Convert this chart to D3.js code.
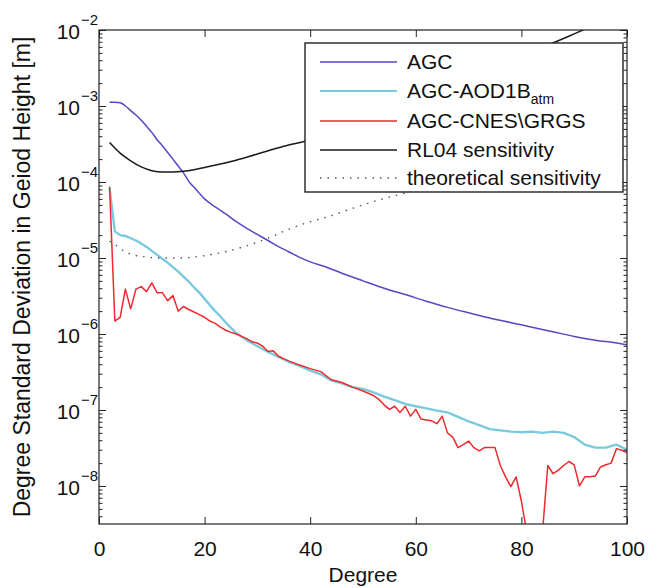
<!DOCTYPE html>
<html><head><meta charset="utf-8">
<script src="https://cdn.jsdelivr.net/npm/d3@7"></script>
<style>
html,body{margin:0;padding:0;background:#fff;}
svg text{font-family:"Liberation Sans",Arial,Helvetica,sans-serif;fill:#111;}
</style></head>
<body><svg id="chart" width="656" height="588"></svg>
<script>
// ---- data ----
const xTicks = [0, 20, 40, 60, 80, 100];
const yTickExponents = [-2, -3, -4, -5, -6, -7, -8];

const agcDegree = [2,3,4,5,6,7,8,9,10,11,12,13,14,15,16,17,18,19,20,22,24,26,28,30,32,34,36,38,40,43,46,50,54,58,62,66,70,74,78,82,86,90,94,98,100];
const agcValue  = [1.12e-3,1.12e-3,1.10e-3,1.0e-3,8.7e-4,7.6e-4,6.5e-4,5.4e-4,4.5e-4,3.6e-4,3.0e-4,2.45e-4,2.0e-4,1.62e-4,1.32e-4,1.02e-4,8.5e-5,7.1e-5,6.0e-5,4.7e-5,3.8e-5,3.0e-5,2.45e-5,2.04e-5,1.70e-5,1.41e-5,1.20e-5,1.02e-5,8.9e-6,7.6e-6,6.3e-6,5.0e-6,4.0e-6,3.3e-6,2.7e-6,2.24e-6,1.9e-6,1.62e-6,1.41e-6,1.23e-6,1.07e-6,9.3e-7,8.3e-7,7.6e-7,7.2e-7];

const aodDegree = [2,3,4,5,6,7,8,9,10,11,12,13,14,15,16,17,18,19,20,21,22,23,24,25,26,28,30,32,34,36,38,40,42,44,46,48,50,52,54,56,58,60,62,64,66,68,70,72,74,76,78,80,82,84,86,88,90,92,94,96,98,100];
const aodValue  = [8.3e-5,2.24e-5,2.0e-5,1.95e-5,1.82e-5,1.7e-5,1.55e-5,1.4e-5,1.24e-5,1.1e-5,9.8e-6,8.7e-6,7.6e-6,6.6e-6,5.7e-6,4.9e-6,4.1e-6,3.5e-6,2.9e-6,2.4e-6,2.0e-6,1.7e-6,1.42e-6,1.2e-6,1.03e-6,8.3e-7,6.9e-7,5.8e-7,5.0e-7,4.3e-7,3.8e-7,3.3e-7,2.95e-7,2.45e-7,2.24e-7,2.0e-7,1.9e-7,1.7e-7,1.5e-7,1.35e-7,1.2e-7,1.12e-7,1.05e-7,9.8e-8,9.3e-8,8.1e-8,7.1e-8,6.3e-8,5.6e-8,5.4e-8,5.2e-8,5.1e-8,5.2e-8,5.0e-8,5.2e-8,5.0e-8,4.4e-8,3.5e-8,3.2e-8,3.2e-8,3.5e-8,3.0e-8];

const cnesDegree = [2,3,4,5,6,7,8,9,10,11,12,13,14,15,16,17,18,19,20,21,22,23,24,25,26,27,28,29,30,31,32,33,34,35,36,38,40,42,44,46,48,50,52,53,54,55,56,57,58,59,60,61,62,63,64,65,66,67,68,69,70,71,72,73,74,75,76,77,78,79,80,81,82,83,84,85,86,87,88,89,90,91,92,93,94,95,96,97,98,99,100];
const cnesValue  = [8.7e-5,1.48e-6,1.66e-6,3.9e-6,2.14e-6,3.9e-6,4.2e-6,3.6e-6,4.7e-6,3.5e-6,3.5e-6,2.75e-6,3.2e-6,2.0e-6,2.3e-6,2.1e-6,1.95e-6,1.8e-6,1.66e-6,1.48e-6,1.38e-6,1.23e-6,1.12e-6,1.05e-6,1.0e-6,9.3e-7,8.7e-7,7.9e-7,7.6e-7,6.9e-7,5.9e-7,6.0e-7,5.1e-7,4.7e-7,4.4e-7,3.9e-7,3.5e-7,3.2e-7,2.5e-7,2.3e-7,2.0e-7,1.78e-7,1.55e-7,1.38e-7,1.17e-7,1.02e-7,1.12e-7,9.3e-8,1.12e-7,8.3e-8,1.02e-7,7.6e-8,7.4e-8,7.2e-8,6.6e-8,8.3e-8,5.0e-8,4.4e-8,3.2e-8,3.5e-8,3.9e-8,3.2e-8,2.9e-8,3.2e-8,3.2e-8,3.2e-8,1.86e-8,1.32e-8,9.8e-9,1.32e-8,6.3e-9,2.5e-9,6.3e-10,5e-10,2.5e-9,1.86e-8,1.45e-8,1.62e-8,1.86e-8,2.1e-8,1.9e-8,1.0e-8,1.32e-8,1.32e-8,1.35e-8,1.78e-8,1.9e-8,2.0e-8,3.1e-8,2.95e-8,2.75e-8];

const rl04Degree = [2,4,6,8,10,12,14,16,18,20,25,30,35,40,50,60,70,80,85,90,95,100];
const rl04Value  = [3.3e-4,2.4e-4,1.9e-4,1.58e-4,1.41e-4,1.35e-4,1.35e-4,1.38e-4,1.45e-4,1.55e-4,1.86e-4,2.34e-4,2.95e-4,3.6e-4,6.6e-4,1.23e-3,2.34e-3,4.5e-3,6.3e-3,8.9e-3,1.26e-2,1.78e-2];

const theoDegree = [2,3,5,8,12,15,19,23,27,32,36,40,44,48,53,58,63,70,80,90,99];
const theoValue  = [1.66e-5,1.51e-5,1.2e-5,1.05e-5,1.0e-5,1.0e-5,1.05e-5,1.17e-5,1.38e-5,1.82e-5,2.4e-5,3.0e-5,3.6e-5,4.5e-5,5.8e-5,7.2e-5,9.3e-5,1.32e-4,2.1e-4,3.3e-4,5.0e-4];

const seriesNames = ["AGC", "AGC-AOD1B", "AGC-CNES\\GRGS", "RL04 sensitivity", "theoretical sensitivity"];

// ---- layout ----
const svg = d3.select("#chart");
const L = 99, R = 627, T = 30, B = 524;
const x = d3.scaleLinear().domain([0, 100]).range([L, R]);
const y = d3.scaleLog().domain([3.162e-9, 1e-2]).range([B, T]);

svg.append("rect").attr("width",656).attr("height",588).attr("fill","#fff");

svg.append("defs").append("clipPath").attr("id","clip")
  .append("rect").attr("x",L).attr("y",T).attr("width",R-L).attr("height",B-T);

const series = [
  {deg: agcDegree,  val: agcValue,  color:"#5548c4", w:1.5, dash:null},
  {deg: aodDegree,  val: aodValue,  color:"#79cadc", w:2.4, dash:null},
  {deg: cnesDegree, val: cnesValue, color:"#ee2a2e", w:1.5, dash:null},
  {deg: rl04Degree, val: rl04Value, color:"#1a1a1a", w:1.5, dash:null},
  {deg: theoDegree, val: theoValue, color:"#555", w:1.4, dash:"1.5,6"}
];

const line = d3.line().x(d => x(d[0])).y(d => y(d[1])).curve(d3.curveMonotoneX);
const lineLin = d3.line().x(d => x(d[0])).y(d => y(d[1]));
const g = svg.append("g").attr("clip-path","url(#clip)");
series.forEach((s, i) => {
  const pts = s.deg.map((d, k) => [d, s.val[k]]);
  g.append("path").datum(pts)
    .attr("d", (i === 3 || i === 4 || i === 0) ? line : lineLin)
    .attr("fill","none").attr("stroke", s.color).attr("stroke-width", s.w)
    .attr("stroke-linejoin","round")
    .attr("stroke-dasharray", s.dash);
});

// ---- axes (ticks inward) ----
const axColor = "#222";
function styleAxis(sel){
  sel.select(".domain").remove();
  sel.selectAll("line").attr("stroke", axColor).attr("stroke-width",1);
}
const majorY = yTickExponents.map(e => Math.pow(10, e));
const minorY = [];
for (let e = -9; e < -2; e++) for (let m = 2; m <= 9; m++) {
  const v = m * Math.pow(10, e);
  if (v >= 3.162e-9 && v <= 1e-2) minorY.push(v);
}
svg.append("g").attr("transform",`translate(${L},0)`)
  .call(d3.axisLeft(y).tickValues(majorY).tickSize(-7).tickFormat("")).call(styleAxis);
svg.append("g").attr("transform",`translate(${L},0)`)
  .call(d3.axisLeft(y).tickValues(minorY).tickSize(-3.5).tickFormat("")).call(styleAxis);
svg.append("g").attr("transform",`translate(${R},0)`)
  .call(d3.axisRight(y).tickValues(majorY).tickSize(-7).tickFormat("")).call(styleAxis);
svg.append("g").attr("transform",`translate(${R},0)`)
  .call(d3.axisRight(y).tickValues(minorY).tickSize(-3.5).tickFormat("")).call(styleAxis);

const xb = svg.append("g").attr("transform",`translate(0,${B})`)
  .call(d3.axisBottom(x).tickValues(xTicks).tickSize(-7).tickPadding(17).tickFormat(d3.format("d")));
xb.select(".domain").remove();
xb.selectAll("line").attr("stroke",axColor);
xb.selectAll("text").attr("font-size",21).attr("fill","#111")
  .attr("font-family","'Liberation Sans',Arial,sans-serif");
svg.append("g").attr("transform",`translate(0,${T})`)
  .call(d3.axisTop(x).tickValues(xTicks).tickSize(-7).tickFormat("")).call(styleAxis);

// frame
svg.append("rect").attr("x",L).attr("y",T).attr("width",R-L).attr("height",B-T)
  .attr("fill","none").attr("stroke",axColor).attr("stroke-width",1.2);

// y tick labels 10^e
yTickExponents.forEach(e => {
  const yy = y(Math.pow(10, e));
  svg.append("text").attr("x", 80).attr("y", yy + 9)
    .attr("text-anchor","end").attr("font-size",21).text("10");
  svg.append("text").attr("x", 81).attr("y", yy - 5)
    .attr("font-size",15).text("\u2212" + Math.abs(e));
});

// axis titles
svg.append("text").attr("x", (L+R)/2).attr("y", 582).attr("text-anchor","middle")
  .attr("font-size",21).text("Degree");
svg.append("text").attr("transform",`translate(30,${(T+B)/2}) rotate(-90)`)
  .attr("text-anchor","middle").attr("font-size",23)
  .text("Degree Standard Deviation in Geiod Height [m]");

// ---- legend ----
const lg = svg.append("g");
lg.append("rect").attr("x",305).attr("y",43).attr("width",318).attr("height",149)
  .attr("fill","#fff").attr("stroke",axColor).attr("stroke-width",1.4);
const rowY = [62, 91, 121, 150, 178];
series.forEach((s, i) => {
  lg.append("line").attr("x1",320).attr("x2",397).attr("y1",rowY[i]).attr("y2",rowY[i])
    .attr("stroke", s.color).attr("stroke-width", i === 1 ? 2 : 1.5)
    .attr("stroke-dasharray", s.dash);
  const t = lg.append("text").attr("x",407).attr("y",rowY[i] + 7).attr("font-size",21);
  if (i === 1) {
    t.append("tspan").text(seriesNames[i]);
    t.append("tspan").attr("font-size",14).attr("dy",6).text("atm");
  } else {
    t.text(seriesNames[i]);
  }
});
</script></body></html>
